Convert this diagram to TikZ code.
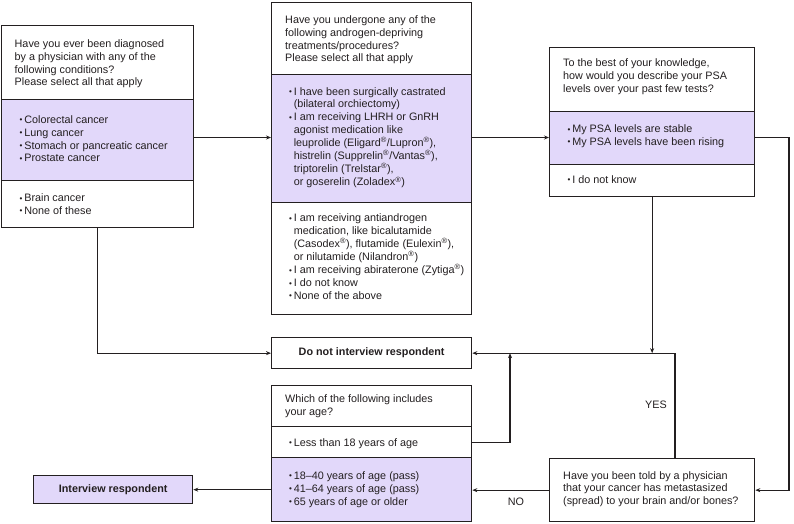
\documentclass[tikz,border=0pt]{standalone}
\usepackage{fontspec}
\usepackage{graphicx}
\setmainfont{Liberation Sans}
\usetikzlibrary{arrows.meta}
\definecolor{lav}{RGB}{226,216,250}
\definecolor{edgec}{RGB}{35,31,32}
\newcommand\bul{\makebox[4.6pt][l]{\raisebox{0.12ex}{\scalebox{0.75}{\textbullet}}}}
\newcommand\qlines[1]{\begin{tabular}[t]{@{}l@{}}#1\end{tabular}}
\newcommand\blines[1]{\begin{tabular}[t]{@{}l@{}l@{}}#1\end{tabular}}
\newcommand\reg{\textsuperscript{\textregistered}}
\begin{document}
\begin{tikzpicture}[x=1pt,y=-1pt,
  font=\fontsize{10.8}{12.85}\selectfont,
  sec/.style={draw=edgec, line width=1.3pt, anchor=north west, inner sep=0pt, fill=white},
  psec/.style={sec, fill=lav},
  txt/.style={anchor=base west, inner sep=0pt, text=edgec},
  conn/.style={draw=edgec, line width=1.1pt, -{Stealth[length=5pt,width=4pt]}},
  plain/.style={draw=edgec, line width=1.1pt},
  lbl/.style={inner sep=0pt, text=edgec}]
\useasboundingbox (0,0) rectangle (794,523);

% ---- Box 1
\node[sec,  minimum width=192pt, minimum height=74pt] (b1h) at (1,25) {};
\node[psec, minimum width=192pt, minimum height=81pt] (b1p) at (1,99) {};
\node[sec,  minimum width=192pt, minimum height=47pt] (b1w) at (1,180) {};
\node[txt] (t1h) at (14.5,47.3) {\qlines{Have you ever been diagnosed\\by a physician with any of the\\following conditions?\\Please select all that apply}};
\node[txt] (t1p) at (19.5,123.3) {\blines{\bul & Colorectal cancer\\ \bul & Lung cancer\\ \bul & Stomach or pancreatic cancer\\ \bul & Prostate cancer}};
\node[txt] (t1w) at (19.5,201.7) {\blines{\bul & Brain cancer\\ \bul & None of these}};

% ---- Box 2
\node[sec,  minimum width=200pt, minimum height=72pt] (b2h) at (271,2) {};
\node[psec, minimum width=200pt, minimum height=128pt] (b2p) at (271,74) {};
\node[sec,  minimum width=200pt, minimum height=112pt] (b2w) at (271,202) {};
\node[txt] (t2h) at (285,23.3) {\qlines{Have you undergone any of the\\following androgen-depriving\\treatments/procedures?\\Please select all that apply}};
\node[txt] (t2p) at (289,95) {\blines{\bul & I have been surgically castrated\\ & (bilateral orchiectomy)\\ \bul & I am receiving LHRH or GnRH\\ & agonist medication like\\ & leuprolide (Eligard\reg/Lupron\reg),\\ & histrelin (Supprelin\reg/Vantas\reg),\\ & triptorelin (Trelstar\reg),\\ & or goserelin (Zoladex\reg)}};
\node[txt] (t2w) at (289,221.7) {\blines{\bul & I am receiving antiandrogen\\ & medication, like bicalutamide\\ & (Casodex\reg), flutamide (Eulexin\reg),\\ & or nilutamide (Nilandron\reg)\\ \bul & I am receiving abiraterone (Zytiga\reg)\\ \bul & I do not know\\ \bul & None of the above}};

% ---- Box 3
\node[sec,  minimum width=205pt, minimum height=64pt] (b3h) at (549,47) {};
\node[psec, minimum width=205pt, minimum height=53pt] (b3p) at (549,111) {};
\node[sec,  minimum width=205pt, minimum height=32pt] (b3w) at (549,164) {};
\node[txt] (t3h) at (563,66.7) {\qlines{To the best of your knowledge,\\how would you describe your PSA\\levels over your past few tests?}};
\node[txt] (t3p) at (567.5,132.7) {\blines{\bul & My PSA levels are stable\\ \bul & My PSA levels have been rising}};
\node[txt] (t3w) at (567.5,183.3) {\blines{\bul & I do not know}};

% ---- Do not interview
\node[sec, minimum width=200pt, minimum height=31pt] (dn) at (271,337) {};
\node[lbl, font=\fontsize{10.8}{12.85}\selectfont\bfseries] (tdn) at (dn.center) {Do not interview respondent};

% ---- Age box
\node[sec,  minimum width=200pt, minimum height=41pt] (ageh) at (271,385) {};
\node[sec,  minimum width=200pt, minimum height=31pt] (agel) at (271,426) {};
\node[psec, minimum width=200pt, minimum height=64pt] (agep) at (271,457) {};
\node[txt] (tah) at (285,402.3) {\qlines{Which of the following includes\\your age?}};
\node[txt] (tal) at (289,446) {\blines{\bul & Less than 18 years of age}};
\node[txt] (tap) at (289,479.3) {\blines{\bul & 18–40 years of age (pass)\\ \bul & 41–64 years of age (pass)\\ \bul & 65 years of age or older}};

% ---- Metastasis box
\node[sec, minimum width=205pt, minimum height=63pt] (met) at (549,458) {};
\node[txt] (tmet) at (563,479) {\qlines{Have you been told by a physician\\that your cancer has metastasized\\(spread) to your brain and/or bones?}};

% ---- Interview respondent
\node[psec, minimum width=159pt, minimum height=28pt] (ir) at (33,475) {};
\node[lbl, font=\fontsize{10.8}{12.85}\selectfont\bfseries] (tir) at (ir.center) {Interview respondent};

% ---- helper coordinates
\coordinate (r1) at (0,137.5);
\coordinate (c1) at (789,0);
\coordinate (cy) at (675,0);
\coordinate (cl) at (510,0);

% ---- connectors
\draw[conn] (b1p.east |- r1) -- (b2p.west |- r1);
\draw[conn] (b2p.east |- r1) -- (b3p.west |- r1);
\draw[conn] (b3p.east |- r1) -- (c1 |- r1) -- (c1 |- met.east) -- (met.east);
\draw[conn] (b3w.south) -- (b3w.south |- dn.east);
\draw[conn] (cy |- met.north) -- (cy |- dn.east) -- (dn.east);
\draw[conn] (agel.east) -- (cl |- agel.east) -- (cl |- dn.east);
\draw[conn] (b1w.south) -- (b1w.south |- dn.west) -- (dn.west);
\draw[conn] (met.west) -- (met.west -| agep.east);
\draw[conn] (agep.west) -- (agep.west -| ir.east);

\node[lbl] (yes) at (656,405) {YES};
\node[lbl] (no) at (516,502) {NO};
\end{tikzpicture}
\end{document}
